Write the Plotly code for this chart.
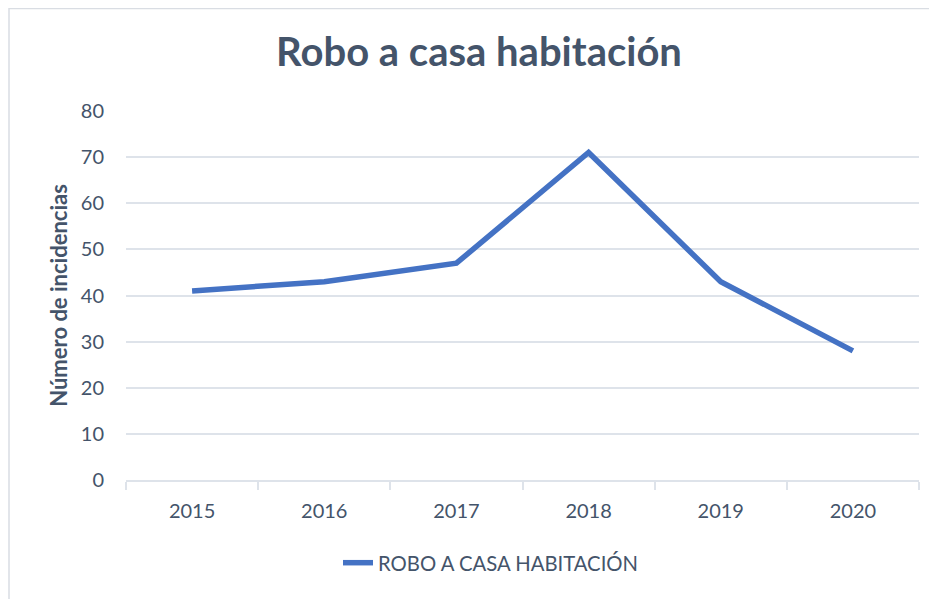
import plotly.graph_objects as go

years = ["2015", "2016", "2017", "2018", "2019", "2020"]
incidencias = [41, 43, 47, 71, 43, 28]
series_name = "ROBO A CASA HABITACIÓN"
title_text = "Robo a casa habitación"
y_title = "Número de incidencias"

TXT = "#44546A"
GRID = "#DEE3EA"
FONT = "Lato, 'Open Sans', sans-serif"

# page body has an 8px margin: figure coords = page coords - 8
W, H = 929, 591
L, R, T, B = 118, 18, 103, 119
PW = W - L - R
PH = H - T - B

fig = go.Figure()
fig.add_trace(go.Scatter(
    x=years, y=incidencias, mode="lines", name=series_name,
    line=dict(color="#4472C4", width=5.5),
))

fig.update_layout(
    width=W, height=H,
    paper_bgcolor="white", plot_bgcolor="white",
    margin=dict(l=L, r=R, t=T, b=B, autoexpand=False),
    font=dict(family=FONT, color=TXT, size=18),
    title=dict(text="<b>" + title_text + "</b>", x=(479 - 8) / W, xanchor="center",
               y=1 - (52 - 8) / H, yanchor="middle",
               font=dict(size=40, color=TXT, family=FONT)),
    showlegend=True,
    legend=dict(orientation="h", x=(338 - 8) / W, xanchor="left", xref="container",
                y=1 - (563 - 8) / H, yref="container", yanchor="middle",
                font=dict(size=20.3, color=TXT), bgcolor="rgba(0,0,0,0)"),
    xaxis=dict(type="category", tickson="boundaries", ticks="outside", ticklen=8,
               range=[-0.5, 5.5],
               tickcolor=GRID, tickwidth=2, showline=True, linecolor=GRID, linewidth=2,
               showgrid=False, ticklabelstandoff=12,
               tickfont=dict(size=20, color=TXT), fixedrange=True),
    yaxis=dict(range=[0, 80], dtick=10, showgrid=True, gridcolor=GRID, gridwidth=1.5,
               zeroline=False, showline=False, ticks="", ticklabelstandoff=21,
               tickfont=dict(size=20, color=TXT),
               title=dict(text="<b>" + y_title + "</b>", font=dict(size=22, color=TXT),
                          standoff=7)),
    shapes=[dict(type="rect", xref="paper", yref="paper",
                 x0=(1 - L) / PW, x1=(W + 30 - L) / PW,
                 y0=-(B + 30) / PH, y1=(PH + T - 0.5) / PH,
                 line=dict(color="#D9DDE3", width=1.5), fillcolor="rgba(0,0,0,0)",
                 layer="below")],
)

fig.write_html("out.html")
